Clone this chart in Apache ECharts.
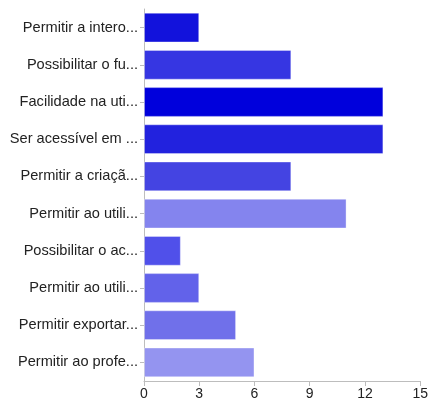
<!DOCTYPE html>
<html>
<head>
<meta charset="utf-8">
<script src="https://cdn.jsdelivr.net/npm/echarts@6/dist/echarts.min.js"></script>
<style>
  html, body { margin: 0; padding: 0; background: #fff; }
  #chart { width: 431px; height: 401px; }
</style>
</head>
<body>
<div id="chart"></div>
<script>
  // respostas (rótulos truncados como no original)
  const categories = [
    'Permitir a intero...',
    'Possibilitar o fu...',
    'Facilidade na uti...',
    'Ser acessível em ...',
    'Permitir a criaçã...',
    'Permitir ao utili...',
    'Possibilitar o ac...',
    'Permitir ao utili...',
    'Permitir exportar...',
    'Permitir ao profe...'
  ];
  const values = [3, 8, 13, 13, 8, 11, 2, 3, 5, 6];
  const barColors = [
    '#1212DC', '#3636E2', '#0000DC', '#2222DE', '#4444E2',
    '#8484EE', '#5050EA', '#6262EA', '#7070EA', '#9494F0'
  ];
  const xTicks = { min: 0, max: 15, interval: 3 };

  let chart = echarts.init(document.getElementById('chart'));
  chart.setOption({
    animation: false,
    grid: {
      left: 144,
      right: 8,
      top: 9,
      bottom: 20
    },
    xAxis: {
      type: 'value',
      min: xTicks.min,
      max: xTicks.max,
      interval: xTicks.interval,
      splitLine: { show: false },
      axisLine: { show: true, lineStyle: { color: '#bdbdbd' } },
      axisTick: { show: true, length: 5, lineStyle: { color: '#bdbdbd' } },
      axisLabel: {
        margin: 6,
        fontSize: 14,
        color: '#222',
        fontFamily: 'Liberation Sans, Arial, sans-serif'
      }
    },
    yAxis: {
      type: 'category',
      inverse: true,
      data: categories,
      axisLine: { show: true, lineStyle: { color: '#bdbdbd' } },
      axisTick: { show: true, alignWithLabel: true, length: 4, lineStyle: { color: '#bdbdbd' } },
      axisLabel: {
        margin: 6,
        fontSize: 14.6,
        color: '#222',
        fontFamily: 'Liberation Sans, Arial, sans-serif'
      }
    },
    series: [{
      type: 'bar',
      data: values.map((v, i) => ({
        value: v,
        itemStyle: { color: barColors[i] }
      })),
      barCategoryGap: '20%',
      itemStyle: {
        borderColor: 'rgba(255,255,255,0.35)',
        borderWidth: 1
      }
    }]
  });
</script>
</body>
</html>
